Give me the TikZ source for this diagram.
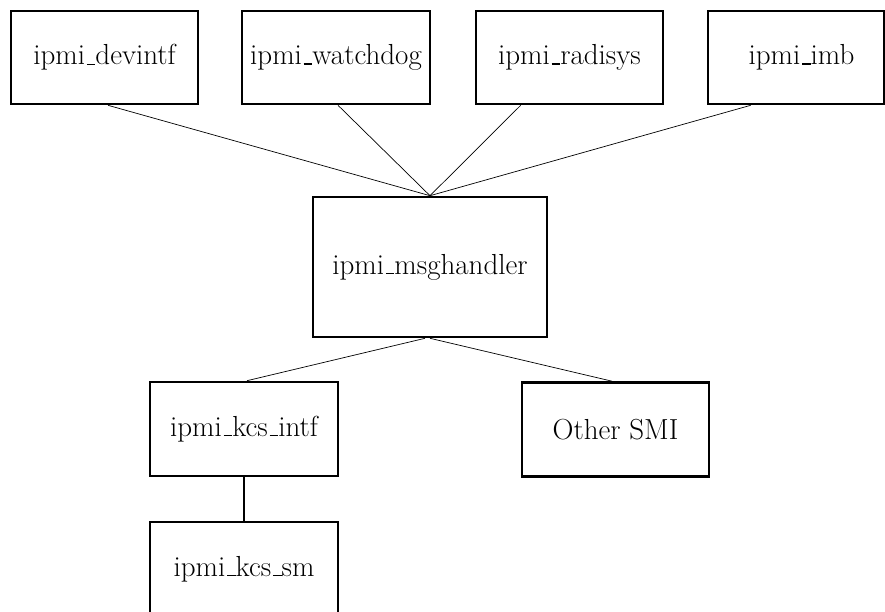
\documentclass[tikz,border=0pt]{standalone}
\usetikzlibrary{calc}
\newcommand{\us}{\leavevmode\kern.06em\vbox{\hrule width.3em height .045em}}
\begin{document}
\begin{tikzpicture}[x=1pt,y=-1pt,
  modbox/.style={draw,line width=2.6pt,minimum width=187pt,minimum height=93pt,inner sep=0pt,font=\fontsize{29}{33}\selectfont},
  link/.style={line width=0.7pt},
  thicklink/.style={line width=2.4pt}]
\useasboundingbox (0,0) rectangle (885,612);
\clip (0,0) rectangle (885,612);
\node[modbox] (dev) at (104.5,57.5) {ipmi\us devintf};
\node[modbox,minimum width=188pt] (wd) at (336,57.5) {ipmi\us watchdog};
\node[modbox] (rad) at (569.5,57.5) {ipmi\us radisys};
\node[modbox,minimum width=176pt] (imb) at (796,57.5) {\hspace*{11pt}ipmi\us imb};
\node[modbox,minimum width=234pt,minimum height=140pt] (msg) at (430,267) {ipmi\us msghandler};
\node[modbox,minimum width=188pt,minimum height=94pt] (kcs) at (244,429) {ipmi\us kcs\us intf};
\node[modbox,minimum width=187pt,minimum height=94pt] (smi) at (615.5,429.5) {Other SMI};
\node[modbox,minimum width=188pt,minimum height=94pt] (sm) at (244,569) {ipmi\us kcs\us sm};
\draw[link] ([xshift=3.5pt]dev.south) -- (msg.north);
\draw[link] ([xshift=2pt]wd.south) -- (msg.north);
\draw[link] ([xshift=46pt]rad.south west) -- (msg.north);
\draw[link] ([xshift=44pt]imb.south west) -- (msg.north);
\draw[link] ([xshift=-5pt]msg.south) -- ([xshift=3pt]kcs.north);
\draw[link] (msg.south) -- ([xshift=-3.5pt]smi.north);
\draw[thicklink] (kcs.south) -- (sm.north);
\end{tikzpicture}
\end{document}
